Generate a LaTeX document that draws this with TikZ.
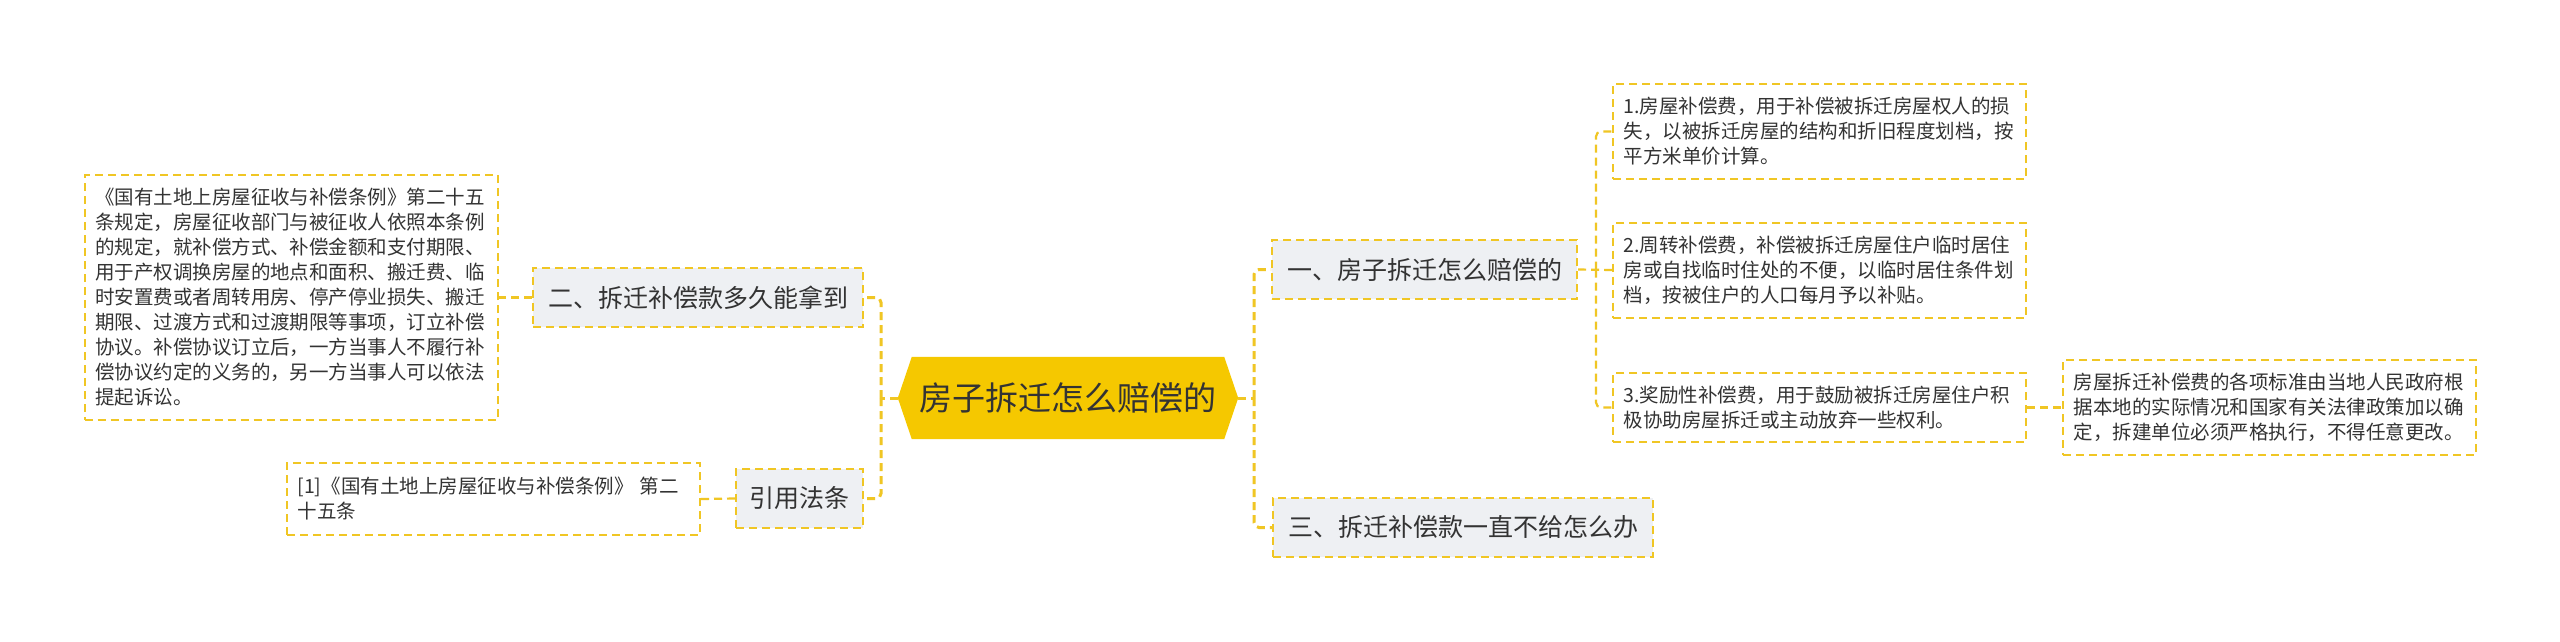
\documentclass[tikz,border=0pt]{standalone}
\usepackage{fontspec}
\newfontfamily\cjk{Noto Sans CJK SC}
\usetikzlibrary{backgrounds}
\definecolor{ylw}{HTML}{F0C624}
\definecolor{hexc}{HTML}{F5C800}
\definecolor{gry}{HTML}{EEF0F3}
\definecolor{txt}{HTML}{333333}
\begin{document}
\begin{tikzpicture}[x=1pt,y=-1pt,
  lvl/.style={draw=ylw, line width=2pt, dash pattern=on 8pt off 5pt, fill=gry, minimum height=59pt, inner sep=0pt, font=\cjk\fontsize{25}{30}\selectfont, text=txt},
  leaf/.style={draw=ylw, line width=2pt, dash pattern=on 8pt off 5pt, fill=white, text width=392pt, inner xsep=10.5pt, inner ysep=0pt, align=left, font=\cjk\fontsize{19.5}{25}\selectfont, text=txt},
  conn/.style={draw=ylw, line width=3pt, dash pattern=on 8pt off 5pt, rounded corners=5pt},
  sub/.style={draw=ylw, line width=2.2pt, dash pattern=on 8pt off 5pt, rounded corners=5pt}]
\useasboundingbox (0,0) rectangle (2560,641);
% central
\node[inner sep=0pt, minimum width=340pt, minimum height=82pt, font=\cjk\fontsize{33}{40}\selectfont, text=txt] (c) at (1068,398) {房子拆迁怎么赔偿的};
\begin{scope}[on background layer]
\fill[white] (0,0) rectangle (2560,641);
\fill[hexc] ([xshift=14pt]c.north west) -- (c.west) -- ([xshift=14pt]c.south west) -- ([xshift=-14pt]c.south east) -- (c.east) -- ([xshift=-14pt]c.north east) -- cycle;
\end{scope}
% level 1
\node[lvl, minimum width=305pt] (b1) at (1424.5,269.5) {一、房子拆迁怎么赔偿的};
\node[lvl, minimum width=380pt] (b3) at (1463,527.5) {三、拆迁补偿款一直不给怎么办};
\node[lvl, minimum width=330pt] (b2) at (698,297.5) {二、拆迁补偿款多久能拿到};
\node[lvl, minimum width=127pt] (law) at (799.5,498.5) {引用法条};
% leaves
\node[leaf, minimum height=95pt] (r1) at (1819.5,131.5) {1.房屋补偿费，用于补偿被拆迁房屋权人的损\\失，以被拆迁房屋的结构和折旧程度划档，按\\平方米单价计算。};
\node[leaf, minimum height=95pt] (r2) at (1819.5,270) {2.周转补偿费，补偿被拆迁房屋住户临时居住\\房或自找临时住处的不便，以临时居住条件划\\档，按被住户的人口每月予以补贴。};
\node[leaf, minimum height=69pt] (r3) at (1819.5,407.5) {3.奖励性补偿费，用于鼓励被拆迁房屋住户积\\极协助房屋拆迁或主动放弃一些权利。};
\node[leaf, minimum height=95pt] (far) at (2269.5,407.5) {房屋拆迁补偿费的各项标准由当地人民政府根\\据本地的实际情况和国家有关法律政策加以确\\定，拆建单位必须严格执行，不得任意更改。};
\node[leaf, minimum height=245pt] (lt) at (291,297.5) {《国有土地上房屋征收与补偿条例》第二十五\\条规定，房屋征收部门与被征收人依照本条例\\的规定，就补偿方式、补偿金额和支付期限、\\用于产权调换房屋的地点和面积、搬迁费、临\\时安置费或者周转用房、停产停业损失、搬迁\\期限、过渡方式和过渡期限等事项，订立补偿\\协议。补偿协议订立后，一方当事人不履行补\\偿协议约定的义务的，另一方当事人可以依法\\提起诉讼。};
\node[leaf, minimum height=72pt] (ref) at (493.5,499) {[1]《国有土地上房屋征收与补偿条例》 第二\\十五条};
% connectors
\coordinate (sR) at (1254,398);
\coordinate (sL) at (881,398);
\coordinate (s1) at ([xshift=18pt]b1.east);
\draw[conn] (c.east) -- (sR);
\draw[conn] (sR) |- (b1.west);
\draw[conn] (sR) |- (b3.west);
\draw[conn] (c.west) -- (sL);
\draw[conn] (sL) |- (b2.east);
\draw[conn] (sL) |- (law.east);
\draw[sub] (b1.east) -- (r2.west);
\draw[sub] (s1) |- (r1.west);
\draw[sub] (s1) |- (r3.west);
\draw[sub] (r3.east) -- (far.west);
\draw[sub] (b2.west) -- (lt.east);
\draw[sub] (law.west) -- (ref.east);
\end{tikzpicture}
\end{document}
